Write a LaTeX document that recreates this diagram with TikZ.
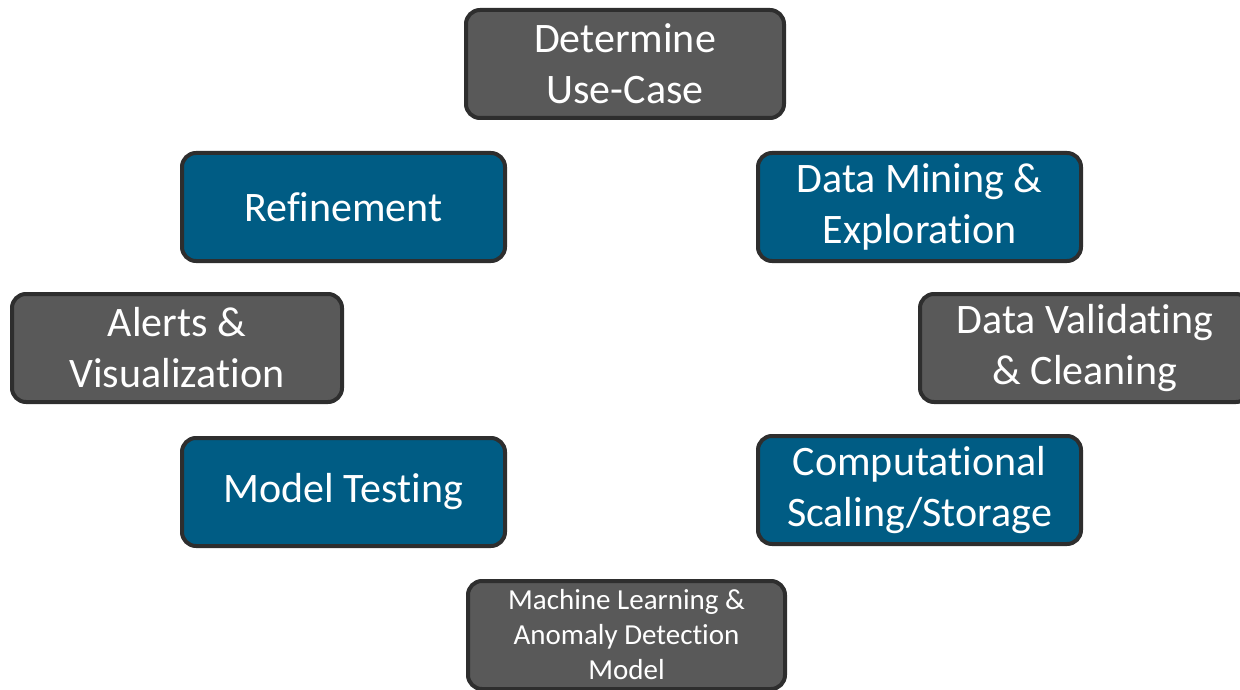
\documentclass[tikz,border=0pt]{standalone}
\usepackage{fontspec}
\setmainfont{Carlito}[Ligatures=NoCommon]
\definecolor{boxgray}{HTML}{595959}
\definecolor{boxblue}{HTML}{005C84}
\definecolor{boxline}{HTML}{2E2E2E}
\begin{document}
\begin{tikzpicture}[x=1pt,y=-1pt,
  box/.style={draw=boxline, line width=4pt, rounded corners=14pt,
    minimum height=108pt, text=white, align=center, inner sep=0pt,
    font=\fontsize{42}{51}\selectfont},
  graybox/.style={box, fill=boxgray},
  bluebox/.style={box, fill=boxblue},
  smalltext/.style={font=\fontsize{29}{35}\selectfont}]
\useasboundingbox (0,0) rectangle (1240,690);
\clip (0,0) rectangle (1240,690);
\node[graybox, minimum width=318pt] (usecase) at (625,64) {Determine\\Use-Case};
\node[bluebox, minimum width=323pt] (refine) at (343.5,207) {Refinement};
\node[bluebox, minimum width=323pt] (mining) at (919.5,207) {Data Mining \&\\Exploration};
\node[graybox, minimum width=330pt] (alerts) at (177,348) {Alerts \&\\Visualization};
\node[graybox, minimum width=330pt] (valid) at (1085,348) {Data Validating\\\& Cleaning};
\node[bluebox, minimum width=323pt] (testing) at (343.5,492) {Model Testing};
\node[bluebox, minimum width=323pt] (scaling) at (919.5,490) {Computational\\Scaling/Storage};
\node[graybox, smalltext, minimum width=317pt] (ml) at (626.5,635) {Machine Learning \&\\Anomaly Detection\\Model};
\end{tikzpicture}
\end{document}
